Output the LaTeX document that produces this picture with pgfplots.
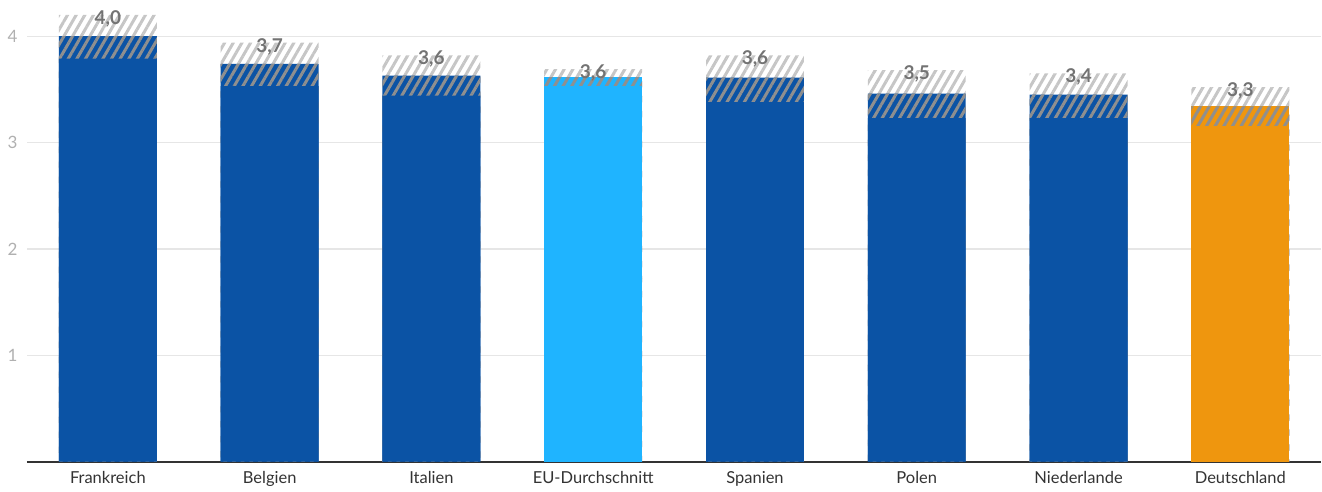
\documentclass[border=0pt]{standalone}
\usepackage{fontspec}
\setmainfont{Lato}
\usepackage{pgfplots}
\usepackage{pgfplotstable}
\pgfplotsset{compat=1.18}
\usetikzlibrary{patterns.meta}
\definecolor{dblue}{HTML}{0B53A5}
\definecolor{lblue}{HTML}{1FB4FF}
\definecolor{orng}{HTML}{EF960E}
\definecolor{hatch}{HTML}{C6C6C6}
\definecolor{hatchdark}{HTML}{8F8F8F}
\definecolor{gridc}{HTML}{E6E6E6}
\definecolor{axisc}{HTML}{333333}
\definecolor{ytc}{HTML}{B0B0B0}
\definecolor{labc}{HTML}{737373}
\pgfplotstableread{
x val lo hi lab
0 4.00 3.79 4.20 4,0
1 3.74 3.53 3.94 3,7
2 3.63 3.44 3.82 3,6
3 3.615 3.53 3.69 3,6
4 3.61 3.38 3.82 3,6
5 3.46 3.23 3.68 3,5
6 3.45 3.23 3.65 3,4
7 3.34 3.155 3.52 3,3
}\data
\tikzset{
  lightstripes/.style={draw=none, pattern={Lines[angle=60,distance=7.5pt,line width=3pt]}, pattern color=hatch},
  darkstripes/.style={draw=none, pattern={Lines[angle=60,distance=7.5pt,line width=3pt]}, pattern color=hatchdark, fill opacity=0.6},
}
\begin{document}
\fontsize{16}{19}\selectfont
\begin{tikzpicture}
\begin{axis}[
  scale only axis,
  width=1295pt, height=462pt,
  xmin=-0.5, xmax=7.5,
  ymin=0, ymax=4.34,
  clip=false,
  axis y line*=left,
  axis x line*=bottom,
  y axis line style={draw=none},
  x axis line style={axisc, line width=1.6pt, -},
  xtick={0,...,7},
  xticklabels={Frankreich,Belgien,Italien,EU-Durchschnitt,Spanien,Polen,Niederlande,Deutschland},
  xticklabel style={text=axisc, font=\fontsize{16.5}{19}\selectfont, yshift=-4pt},
  major tick length=0pt,
  ytick={1,2,3,4},
  ymajorgrids,
  grid style={gridc, line width=1.3pt},
  /pgf/number format/assume math mode=true,
  yticklabel style={text=ytc, font=\fontsize{17}{20}\selectfont, xshift=-4pt},
  every tick/.style={draw=none},
]
% 1: light stripes up to upper bound
\addplot[ybar, bar shift=0pt, bar width=98pt, lightstripes] table[x=x,y=hi]{\data};
% 2: coloured bars
\addplot[ybar, bar shift=0pt, bar width=98pt, draw=none, fill=dblue] coordinates {(0,4.00) (1,3.74) (2,3.63) (4,3.61) (5,3.46) (6,3.45)};
\addplot[ybar, bar shift=0pt, bar width=98pt, draw=none, fill=lblue] coordinates {(3,3.615)};
\addplot[ybar, bar shift=0pt, bar width=98pt, draw=none, fill=orng] coordinates {(7,3.34)};
% 3: dark stripes over the bar
\addplot[ybar, bar shift=0pt, bar width=98pt, darkstripes] table[x=x,y=val]{\data};
% 4: coloured bars up to the lower bound
\addplot[ybar, bar shift=0pt, bar width=98pt, draw=none, fill=dblue] coordinates {(0,3.79) (1,3.53) (2,3.44) (4,3.38) (5,3.23) (6,3.23)};
\addplot[ybar, bar shift=0pt, bar width=98pt, draw=none, fill=lblue] coordinates {(3,3.53)};
\addplot[ybar, bar shift=0pt, bar width=98pt, draw=none, fill=orng] coordinates {(7,3.155)};
% labels
\addplot[draw=none, mark=none, point meta=explicit symbolic,
  nodes near coords,
  every node near coord/.style={anchor=center, yshift=-4pt, text=labc, font=\fontsize{19}{22}\selectfont\bfseries}]
  table[x=x,y=hi,meta=lab]{\data};
\end{axis}
\path ([xshift=-27pt,yshift=-26pt]current axis.south west);
\end{tikzpicture}
\end{document}
